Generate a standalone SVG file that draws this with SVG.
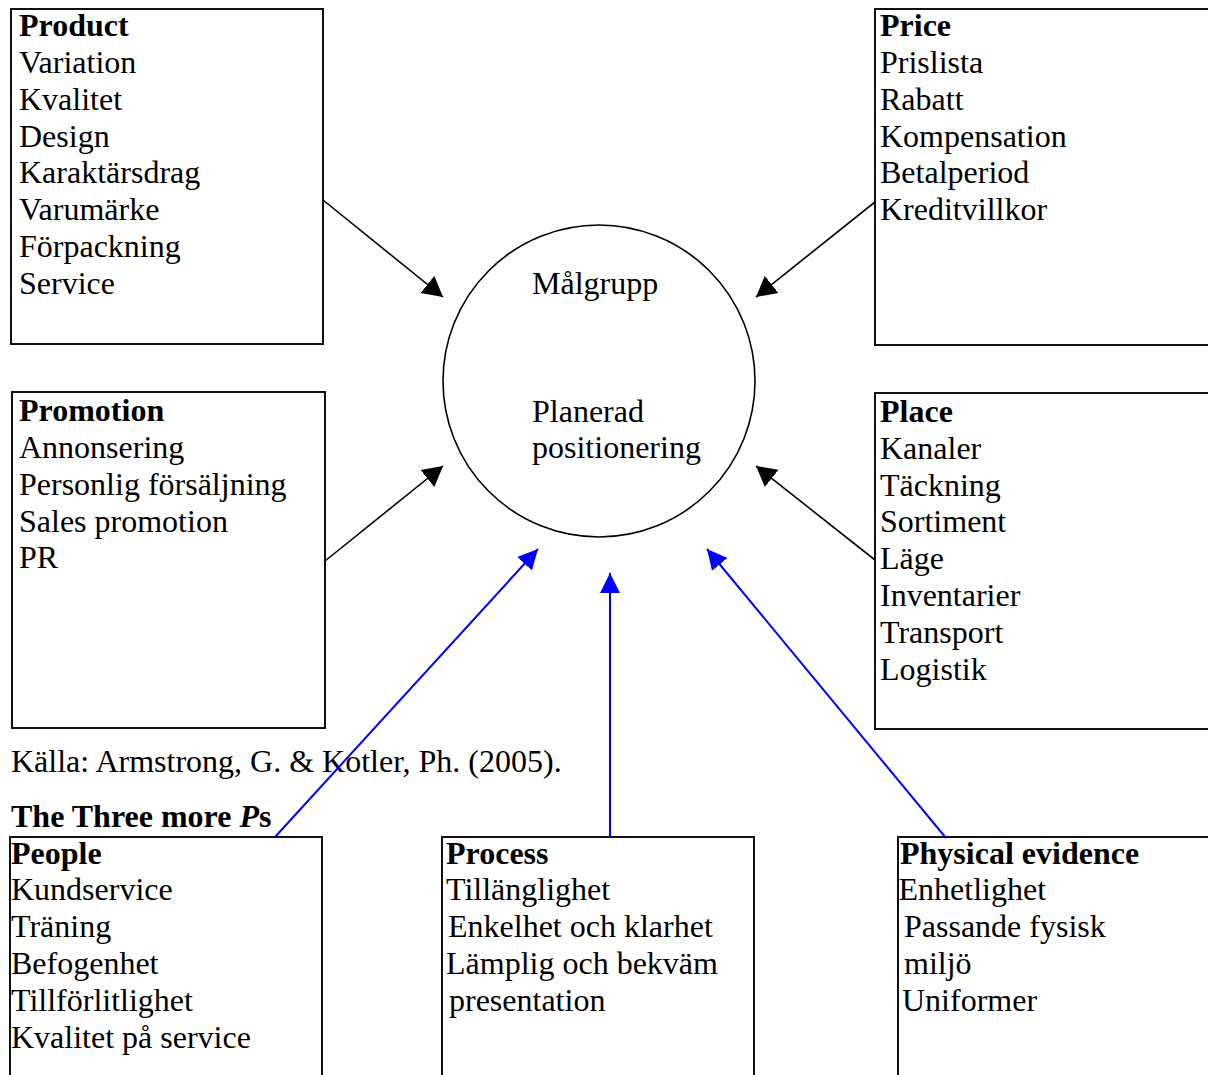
<svg xmlns="http://www.w3.org/2000/svg" width="1208" height="1075" viewBox="0 0 1208 1075">
<style>
  text { font-family: "Liberation Serif", "Times New Roman", serif; font-size: 32px; fill: #000; }
  .b { font-weight: bold; }
  .box { fill: #fff; stroke: #111; stroke-width: 2; }
  .circ { fill: #fff; stroke: #000; stroke-width: 1.6; }
  .blk { stroke: #000; stroke-width: 1.6; fill: none; marker-end: url(#ahB); }
  .blu { stroke: #0000ff; stroke-width: 2; fill: none; marker-end: url(#ahU); }
</style>
<defs>
  <marker id="ahB" markerUnits="userSpaceOnUse" markerWidth="22" markerHeight="24" refX="20" refY="11" orient="auto" viewBox="0 0 22 22">
    <path d="M0,0 L20,11 L0,22 z" fill="#000"/>
  </marker>
  <marker id="ahU" markerUnits="userSpaceOnUse" markerWidth="22" markerHeight="24" refX="20" refY="10" orient="auto" viewBox="0 0 22 20">
    <path d="M0,0 L20,10 L0,20 z" fill="#0000ff"/>
  </marker>
</defs>

<g id="product">
  <rect class="box" x="11" y="9" width="312" height="335"/>
  <text x="19" y="36" class="b">Product</text>
  <text x="19" y="73">Variation</text>
  <text x="19" y="110">Kvalitet</text>
  <text x="19" y="146.5">Design</text>
  <text x="19" y="183.3">Karaktärsdrag</text>
  <text x="19" y="220">Varumärke</text>
  <text x="19" y="257">Förpackning</text>
  <text x="19" y="293.5">Service</text>
</g>

<g id="price">
  <rect class="box" x="875" y="9" width="345" height="336"/>
  <text x="880" y="36" class="b">Price</text>
  <text x="880" y="73">Prislista</text>
  <text x="880" y="110">Rabatt</text>
  <text x="880" y="146.5">Kompensation</text>
  <text x="880" y="183.3">Betalperiod</text>
  <text x="880" y="220">Kreditvillkor</text>
</g>

<g id="promotion">
  <rect class="box" x="12" y="392" width="313" height="336"/>
  <text x="19" y="421" class="b">Promotion</text>
  <text x="19" y="458">Annonsering</text>
  <text x="19" y="495">Personlig försäljning</text>
  <text x="19" y="531.5">Sales promotion</text>
  <text x="19" y="568.3">PR</text>
</g>

<g id="place">
  <rect class="box" x="875" y="393" width="345" height="336"/>
  <text x="880" y="422" class="b">Place</text>
  <text x="880" y="458.8">Kanaler</text>
  <text x="880" y="495.6">Täckning</text>
  <text x="880" y="532.4">Sortiment</text>
  <text x="880" y="569.2">Läge</text>
  <text x="880" y="606">Inventarier</text>
  <text x="880" y="642.8">Transport</text>
  <text x="880" y="679.6">Logistik</text>
</g>

<g id="target">
  <circle class="circ" cx="599" cy="381" r="156"/>
  <text x="532" y="294">Målgrupp</text>
  <text x="532" y="421.7">Planerad</text>
  <text x="532" y="458.3">positionering</text>
</g>

<g id="source">
  <text x="11" y="771.7">Källa: Armstrong, G. &amp; Kotler, Ph. (2005).</text>
</g>

<g id="heading">
  <text x="11" y="826.7" class="b">The Three more <tspan font-style="italic">P</tspan>s</text>
</g>

<g id="people">
  <rect class="box" x="10" y="837" width="312" height="260"/>
  <text x="11" y="863.5" class="b">People</text>
  <text x="11" y="900.3">Kundservice</text>
  <text x="11" y="937.1">Träning</text>
  <text x="11" y="973.9">Befogenhet</text>
  <text x="11" y="1010.7">Tillförlitlighet</text>
  <text x="11" y="1047.5">Kvalitet på service</text>
</g>

<g id="process">
  <rect class="box" x="442" y="837" width="312" height="260"/>
  <text x="446" y="863.5" class="b">Process</text>
  <text x="446" y="900.3">Tillänglighet</text>
  <text x="448" y="937.1">Enkelhet och klarhet</text>
  <text x="446" y="973.9">Lämplig och bekväm</text>
  <text x="449" y="1010.7">presentation</text>
</g>

<g id="physical">
  <rect class="box" x="898" y="837" width="320" height="260"/>
  <text x="900" y="863.5" class="b">Physical evidence</text>
  <text x="898.5" y="900.3">Enhetlighet</text>
  <text x="904" y="937.1">Passande fysisk</text>
  <text x="904" y="973.9">miljö</text>
  <text x="902" y="1010.7">Uniformer</text>
</g>

<g id="connectors">
  <line class="blk" x1="323" y1="200" x2="443" y2="297"/>
  <line class="blk" x1="875" y1="202" x2="756" y2="297"/>
  <line class="blk" x1="325" y1="561" x2="443" y2="466"/>
  <line class="blk" x1="875" y1="560" x2="756" y2="466"/>
  <line class="blu" x1="275" y1="837" x2="538" y2="549"/>
  <line class="blu" x1="610" y1="837" x2="610" y2="573"/>
  <line class="blu" x1="946" y1="838" x2="707" y2="549"/>
</g>
</svg>
